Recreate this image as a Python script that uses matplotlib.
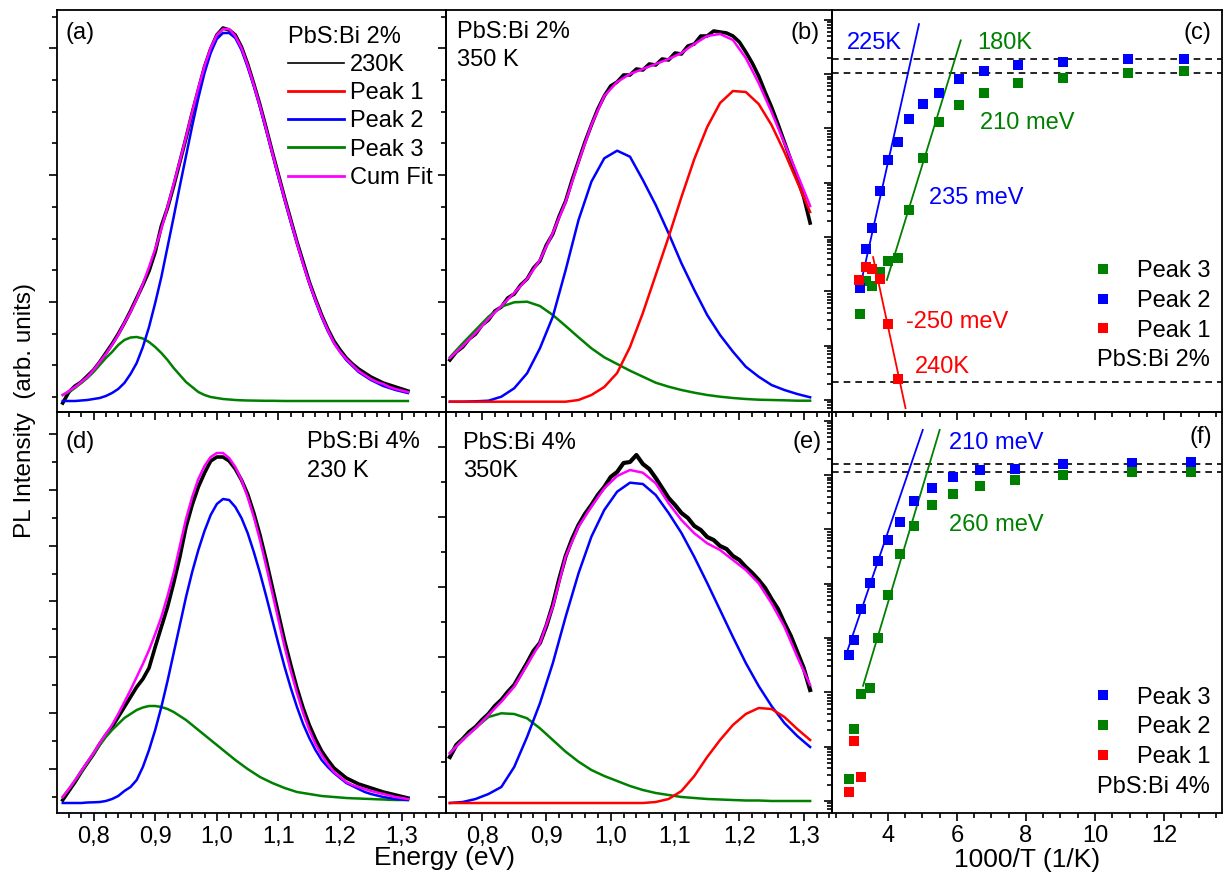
import numpy as np
import matplotlib
matplotlib.use('Agg')
import matplotlib.pyplot as plt
from matplotlib.lines import Line2D
from matplotlib.ticker import MultipleLocator, FixedLocator, LogLocator, NullFormatter

plt.rcParams['font.family'] = ['Liberation Sans', 'DejaVu Sans']
plt.rcParams['font.size'] = 17
NARROW = ['Liberation Sans Narrow', 'Liberation Sans', 'DejaVu Sans']

RED, BLUE, GREEN, MAG = '#ff0000', '#0000ff', '#008000', '#ff00ff'

E2 = [0.75, 0.77, 0.79, 0.81, 0.83, 0.85, 0.87, 0.89, 0.91, 0.93, 0.95, 0.97, 0.99, 1.01, 1.03,
      1.05, 1.07, 1.09, 1.11, 1.13, 1.15, 1.17, 1.19, 1.21, 1.23, 1.25, 1.27, 1.29, 1.31]
E1 = [0.75, 0.76, 0.77, 0.78, 0.79, 0.80, 0.81, 0.82, 0.83, 0.84, 0.85, 0.86, 0.87, 0.88, 0.89,
      0.90, 0.91, 0.92, 0.93, 0.94, 0.95, 0.96, 0.97, 0.98, 0.99, 1.00, 1.01, 1.02, 1.03, 1.04,
      1.05, 1.06, 1.07, 1.08, 1.09, 1.10, 1.11, 1.12, 1.13, 1.14, 1.15, 1.16, 1.17, 1.18, 1.19,
      1.20, 1.21, 1.22, 1.23, 1.24, 1.25, 1.26, 1.27, 1.28, 1.29, 1.30, 1.31]

# (a) PbS:Bi 2%, 230 K  (arb. units, on E1)
a_data = [0.9, 2.0, 2.6, 3.0, 3.6, 4.2, 5.0, 5.9, 6.8, 7.8,
          8.9, 10.1, 11.4, 12.7, 14.1, 16.0, 18.6, 20.4, 22.6, 25.0,
          27.4, 29.9, 32.2, 34.5, 36.3, 37.7, 38.4, 38.2, 37.7, 36.5,
          34.8, 32.8, 30.7, 28.4, 26.0, 23.7, 21.4, 19.2, 17.0, 15.0,
          13.0, 11.3, 9.7, 8.3, 7.1, 6.2, 5.4, 4.8, 4.3, 3.9,
          3.5, 3.2, 2.9, 2.7, 2.5, 2.3, 2.1]
a_peak2 = [1.1, 1.1, 1.1, 1.15, 1.2, 1.3, 1.4, 1.6, 1.9, 2.3,
           2.9, 3.8, 4.9, 6.5, 8.5, 10.9, 13.5, 16.5, 19.5, 22.6,
           25.6, 28.6, 31.4, 33.9, 35.9, 37.3, 37.9, 37.9, 37.4, 36.2,
           34.5, 32.6, 30.5, 28.2, 25.9, 23.5, 21.2, 19.0, 16.9, 14.8,
           12.9, 11.1, 9.5, 8.1, 6.9, 6.0, 5.2, 4.6, 4.0, 3.6,
           3.2, 2.9, 2.6, 2.4, 2.2, 2.05, 1.9]
a_peak3 = [1.7, 2.0, 2.4, 2.9, 3.4, 4.0, 4.7, 5.4, 6.0, 6.7,
           7.2, 7.45, 7.5, 7.35, 7.0, 6.5, 5.9, 5.2, 4.4, 3.7,
           3.0, 2.5, 2.0, 1.7, 1.5, 1.4, 1.3, 1.25, 1.2, 1.17,
           1.15, 1.14, 1.13, 1.12, 1.12, 1.11, 1.1, 1.1, 1.1, 1.1,
           1.1, 1.1, 1.1, 1.1, 1.1, 1.1, 1.1, 1.1, 1.1, 1.1,
           1.1, 1.1, 1.1, 1.1, 1.1, 1.1, 1.1]
a_fit = [1.7, 2.1, 2.5, 3.0, 3.5, 4.2, 5.0, 5.8, 6.7, 7.7,
         8.9, 10.0, 11.3, 12.8, 14.5, 16.3, 18.3, 20.5, 22.8, 25.1,
         27.5, 30.0, 32.4, 34.6, 36.4, 37.7, 38.3, 38.3, 37.6, 36.4,
         34.7, 32.7, 30.6, 28.3, 25.9, 23.6, 21.3, 19.1, 16.9, 14.8,
         12.9, 11.2, 9.6, 8.2, 6.9, 6.0, 5.3, 4.7, 4.1, 3.7,
         3.3, 3.0, 2.8, 2.5, 2.3, 2.15, 2.0]

# (b) PbS:Bi 2%, 350 K  (data on E1, fit components on E2)
b_data = [5.2, 6.0, 6.5, 7.3, 7.8, 8.7, 9.2, 10.1, 10.5, 11.4,
          11.8, 12.7, 13.3, 14.4, 15.1, 16.7, 17.8, 19.6, 21.1, 23.2,
          25.1, 27.0, 28.7, 30.3, 31.6, 32.6, 33.0, 33.7, 33.7, 34.3,
          34.2, 34.8, 34.7, 35.3, 35.2, 35.9, 35.8, 36.6, 36.8, 37.6,
          37.6, 38.1, 38.0, 37.9, 37.6, 37.0, 36.0, 34.9, 33.6, 32.0,
          30.5, 28.8, 27.0, 25.2, 23.4, 21.5, 18.9]
b_peak1 = [1.03, 1.03, 1.03, 1.03, 1.03, 1.03, 1.03, 1.03, 1.03, 1.03, 1.2, 1.7, 2.5, 3.9, 6.5,
           9.9, 13.7, 17.5, 21.5, 25.3, 28.5, 30.9, 32.1, 32.0, 30.8, 28.7, 26.0, 23.0, 20.0]
b_peak2 = [1.03, 1.03, 1.07, 1.13, 1.53, 2.37, 3.87, 6.37, 9.53, 14.2, 19.2, 23.03, 25.37, 26.13, 25.53,
           23.2, 20.7, 17.87, 14.87, 12.2, 9.7, 7.7, 6.03, 4.53, 3.53, 2.7, 2.2, 1.8, 1.47]
b_peak3 = [5.47, 6.87, 8.2, 9.53, 10.53, 10.97, 11.03, 10.6, 9.7, 8.6, 7.47, 6.37, 5.47, 4.8, 4.13,
           3.53, 2.93, 2.53, 2.2, 1.93, 1.7, 1.53, 1.4, 1.3, 1.23, 1.2, 1.17, 1.13, 1.13]
b_fit = [5.4, 6.6, 7.9, 9.3, 10.6, 11.9, 13.3, 15.2, 17.9, 21.0, 25.0, 28.7, 31.6, 33.0, 33.8,
         34.3, 34.8, 35.3, 35.9, 36.8, 37.6, 37.8, 37.2, 35.4, 32.9, 30.0, 26.9, 23.8, 20.6]

# (d) PbS:Bi 4%, 230 K  (on E1)
d_data = [1.3, 2.2, 3.1, 4.1, 5.0, 5.9, 6.9, 7.8, 8.6, 9.6,
          10.6, 11.6, 12.6, 13.4, 14.5, 16.6, 18.6, 20.6, 23.0, 25.6,
          28.6, 30.8, 32.6, 34.0, 35.2, 35.6, 35.6, 35.2, 34.4, 33.3,
          31.9, 30.0, 27.8, 25.3, 22.6, 19.9, 17.2, 14.8, 12.5, 10.5,
          8.8, 7.4, 6.2, 5.3, 4.5, 4.0, 3.5, 3.2, 2.9, 2.7,
          2.5, 2.3, 2.1, 1.95, 1.8, 1.65, 1.5]
d_peak2 = [1.0, 1.0, 1.0, 1.0, 1.05, 1.07, 1.1, 1.2, 1.4, 1.7,
           2.2, 2.6, 3.3, 4.6, 6.3, 8.3, 10.6, 13.2, 16.0, 18.8,
           21.6, 24.1, 26.3, 28.2, 29.8, 30.9, 31.4, 31.3, 30.6, 29.5,
           28.0, 26.1, 24.0, 21.7, 19.3, 16.9, 14.6, 12.5, 10.6, 8.9,
           7.5, 6.3, 5.3, 4.6, 4.0, 3.5, 3.0, 2.7, 2.4, 2.1,
           1.9, 1.75, 1.6, 1.5, 1.4, 1.35, 1.3]
d_peak3 = [1.6, 2.4, 3.2, 4.1, 5.0, 5.9, 6.8, 7.6, 8.3, 8.9,
           9.5, 9.9, 10.3, 10.55, 10.7, 10.7, 10.6, 10.4, 10.1, 9.7,
           9.3, 8.8, 8.3, 7.8, 7.3, 6.8, 6.3, 5.8, 5.3, 4.85,
           4.4, 4.0, 3.6, 3.3, 3.0, 2.75, 2.5, 2.3, 2.1, 2.0,
           1.9, 1.8, 1.7, 1.65, 1.6, 1.55, 1.5, 1.47, 1.45, 1.42,
           1.4, 1.37, 1.35, 1.32, 1.3, 1.3, 1.3]
d_fit = [1.6, 2.4, 3.3, 4.2, 5.1, 6.0, 7.0, 7.9, 8.8, 9.9,
         11.1, 12.3, 13.6, 14.9, 16.3, 17.9, 19.6, 21.7, 24.0, 26.7,
         29.4, 31.6, 33.4, 34.7, 35.6, 36.0, 36.0, 35.5, 34.6, 33.3,
         31.6, 29.6, 27.3, 24.7, 22.0, 19.3, 16.6, 14.2, 12.0, 10.0,
         8.3, 6.9, 5.8, 4.9, 4.1, 3.6, 3.1, 2.8, 2.6, 2.4,
         2.2, 2.05, 1.9, 1.75, 1.6, 1.5, 1.4]

# (e) PbS:Bi 4%, 350 K  (data on E1, fit components on E2)
e_data = [5.6, 6.8, 7.4, 8.1, 8.6, 9.3, 9.9, 10.7, 11.3, 12.1,
          12.8, 13.9, 15.0, 16.2, 17.0, 18.7, 20.8, 23.4, 25.7, 27.4,
          28.8, 29.9, 30.8, 31.8, 32.6, 33.6, 34.1, 35.0, 35.1, 35.8,
          34.9, 34.4, 33.5, 32.5, 31.5, 30.8, 30.0, 29.5, 28.7, 28.3,
          27.6, 27.3, 26.7, 26.4, 25.7, 25.3, 24.6, 24.0, 23.3, 22.5,
          21.4, 20.4, 19.0, 17.7, 16.1, 14.5, 12.3]
e_peak1 = [1.0, 1.0, 1.0, 1.0, 1.0, 1.0, 1.0, 1.0, 1.0, 1.0, 1.0, 1.0, 1.0, 1.0, 1.0,
           1.0, 1.1, 1.4, 2.2, 3.7, 5.6, 7.3, 8.8, 9.9, 10.5, 10.4, 9.6, 8.4, 7.3]
e_peak2 = [1.0, 1.1, 1.4, 1.9, 2.6, 4.6, 7.6, 10.97, 14.97, 19.63, 23.97, 27.63, 30.3, 32.13, 33.03,
           32.9, 31.8, 30.0, 28.0, 25.6, 23.0, 20.3, 17.6, 15.0, 12.7, 10.7, 9.0, 7.7, 6.6]
e_peak3 = [6.0, 7.4, 8.5, 9.6, 9.97, 9.9, 9.47, 8.47, 7.3, 6.13, 5.13, 4.3, 3.7, 3.2, 2.7,
           2.3, 2.0, 1.8, 1.6, 1.5, 1.4, 1.35, 1.3, 1.25, 1.25, 1.2, 1.2, 1.2, 1.2]
e_fit = [5.97, 7.3, 8.47, 9.8, 11.13, 12.63, 14.8, 16.97, 20.63, 25.63, 28.63, 30.63, 32.47, 33.7, 34.3,
         34.03, 32.97, 30.97, 29.3, 27.97, 26.97, 26.3, 25.3, 24.3, 22.97, 20.97, 18.63, 15.63, 12.8]

# (c) Arrhenius, PbS:Bi 2%  -- x: 1000/T, y: log10(intensity), arb. offset
c_x = [3.20, 3.37, 3.55, 3.77, 4.00, 4.28, 4.62, 5.01, 5.47, 6.06, 6.78, 7.76, 9.07, 10.97, 12.57]
c_peak2 = [2.06, 2.78, 3.17, 3.85, 4.42, 4.75, 5.17, 5.45, 5.66, 5.91, 6.06, 6.16, 6.22, 6.27, 6.28]
c_peak3 = [1.58, 2.19, 2.09, 2.35, 2.56, 2.62, 3.49, 4.46, 5.11, 5.44, 5.65, 5.83, 5.93, 6.02, 6.05]
c_x1 = [3.16, 3.36, 3.55, 3.78, 4.00, 4.28]
c_peak1 = [2.21, 2.45, 2.41, 2.22, 1.40, 0.38]
c_fit2 = ([3.20, 4.90], [2.10, 6.92])
c_fit3 = ([3.97, 6.11], [2.21, 6.62])
c_fit1 = ([3.57, 4.51], [2.63, -0.15])
c_hlines = [6.28, 6.02, 0.33]

# (f) Arrhenius, PbS:Bi 4%
f_x = [2.87, 3.03, 3.23, 3.47, 3.71, 4.00, 4.34, 4.77, 5.27, 5.88, 6.67, 7.69, 9.07, 11.08, 12.79]
f_peak3 = [2.69, 2.96, 3.54, 4.02, 4.42, 4.81, 5.13, 5.53, 5.77, 5.97, 6.09, 6.12, 6.20, 6.23, 6.24]
f_peak2 = [0.41, 1.32, 1.97, 2.08, 3.00, 3.80, 4.55, 5.07, 5.45, 5.65, 5.79, 5.90, 6.00, 6.06, 6.06]
f_x1 = [2.87, 3.03, 3.23]
f_peak1 = [0.16, 1.11, 0.45]
f_fit3 = ([2.77, 5.01], [2.66, 6.83])
f_fit2 = ([3.28, 5.50], [2.12, 6.83])
f_hlines = [6.20, 6.06]

E_TICKS = [0.8, 0.9, 1.0, 1.1, 1.2, 1.3]
E_LABELS = ['0,8', '0,9', '1,0', '1,1', '1,2', '1,3']

W, H = 1224, 873
fig = plt.figure(figsize=(W / 100, H / 100), dpi=100)


def box(x0, y0, x1, y1):
    return fig.add_axes([x0 / W, 1 - y1 / H, (x1 - x0) / W, (y1 - y0) / H])


ax_a = box(57, 10, 446, 412)
ax_b = box(446, 10, 832, 412)
ax_c = box(832, 10, 1222, 412)
ax_d = box(57, 412, 446, 813)
ax_e = box(446, 412, 832, 813)
ax_f = box(832, 412, 1222, 813)

for ax in (ax_a, ax_b, ax_c, ax_d, ax_e, ax_f):
    ax.patch.set_alpha(0)
    for s in ax.spines.values():
        s.set_linewidth(1.3)
    ax.tick_params(which='both', direction='out', top=False, right=False, width=1.2)
    ax.tick_params(which='major', length=6)
    ax.tick_params(which='minor', length=3.5)
    ax.tick_params(axis='y', labelleft=False)


def spectrum_axes(ax, xlim, ylim, ymaj, ymin, show_labels):
    ax.set_xlim(*xlim)
    ax.set_ylim(*ylim)
    ax.xaxis.set_major_locator(FixedLocator(E_TICKS))
    ax.xaxis.set_minor_locator(MultipleLocator(0.02))
    ax.yaxis.set_major_locator(FixedLocator(ymaj))
    ax.yaxis.set_minor_locator(FixedLocator(ymin))
    if show_labels:
        ax.set_xticklabels(E_LABELS, family=NARROW, fontsize=17)
        ax.tick_params(axis='x', pad=3)
    else:
        ax.tick_params(axis='x', labelbottom=False)


top_maj = np.arange(11.01, 40.2, 12.68)
top_min = np.arange(1.5, 40.2, 3.17)
spectrum_axes(ax_a, (0.7407, 1.3718), (0, 40.2), top_maj, top_min, False)
spectrum_axes(ax_b, (0.744, 1.344), (0, 40.2), top_maj, top_min, False)
spectrum_axes(ax_d, (0.7407, 1.3718), (0, 40.1), np.arange(4.42, 40.1, 5.58), np.arange(1.63, 40.1, 2.79), True)
spectrum_axes(ax_e, (0.744, 1.344), (0, 40.1), np.arange(1.63, 40.1, 7.0), np.arange(1.63, 40.1, 3.5), True)

LW = 1.8
# (a)
ax_a.plot(E1, a_data, color='k', lw=2.6)
ax_a.plot(E1, a_peak3, color=GREEN, lw=LW)
ax_a.plot(E1, a_peak2, color=BLUE, lw=LW)
ax_a.plot(E1, a_fit, color=MAG, lw=LW)
handles = [Line2D([], [], color='k', lw=1.2), Line2D([], [], color=RED, lw=2),
           Line2D([], [], color=BLUE, lw=2), Line2D([], [], color=GREEN, lw=2),
           Line2D([], [], color=MAG, lw=2)]
ax_a.legend(handles, ['230K', 'Peak 1', 'Peak 2', 'Peak 3', 'Cum Fit'],
            title='PbS:Bi 2%', title_fontsize=17, alignment='left',
            loc='upper left', bbox_to_anchor=(0.595, 0.96), frameon=False,
            handlelength=2.35, handletextpad=0.25, labelspacing=0.26,
            borderpad=0, borderaxespad=0, fontsize=17)
ax_a.text(0.021, 0.943, '(a)', transform=ax_a.transAxes, ha='left', va='center')

# (b)
ax_b.plot(E1, b_data, color='k', lw=2.6)
ax_b.plot(E2, b_peak3, color=GREEN, lw=LW)
ax_b.plot(E2, b_peak2, color=BLUE, lw=LW)
ax_b.plot(E2, b_peak1, color=RED, lw=LW)
ax_b.plot(E2, b_fit, color=MAG, lw=LW)
ax_b.text(0.028, 0.945, 'PbS:Bi 2%', transform=ax_b.transAxes, ha='left', va='center')
ax_b.text(0.028, 0.876, '350 K', transform=ax_b.transAxes, ha='left', va='center')
ax_b.text(0.969, 0.943, '(b)', transform=ax_b.transAxes, ha='right', va='center')

# (d)
ax_d.plot(E1, d_data, color='k', lw=2.6)
ax_d.plot(E1, d_peak3, color=GREEN, lw=LW)
ax_d.plot(E1, d_peak2, color=BLUE, lw=LW)
ax_d.plot(E1, d_fit, color=MAG, lw=LW)
ax_d.text(0.021, 0.925, '(d)', transform=ax_d.transAxes, ha='left', va='center')
ax_d.text(0.642, 0.925, 'PbS:Bi 4%', transform=ax_d.transAxes, ha='left', va='center')
ax_d.text(0.642, 0.853, '230 K', transform=ax_d.transAxes, ha='left', va='center')

# (e)
ax_e.plot(E1, e_data, color='k', lw=3.0)
ax_e.plot(E2, e_peak3, color=GREEN, lw=LW)
ax_e.plot(E2, e_peak2, color=BLUE, lw=LW)
ax_e.plot(E2, e_peak1, color=RED, lw=LW)
ax_e.plot(E2, e_fit, color=MAG, lw=LW)
ax_e.text(0.044, 0.923, 'PbS:Bi 4%', transform=ax_e.transAxes, ha='left', va='center')
ax_e.text(0.044, 0.852, '350K', transform=ax_e.transAxes, ha='left', va='center')
ax_e.text(0.972, 0.925, '(e)', transform=ax_e.transAxes, ha='right', va='center')


def arrhenius_axes(ax, ytop, show_labels):
    ax.set_yscale('log')
    ax.set_xlim(2.38, 13.68)
    ax.set_ylim(10 ** -0.221, 10 ** ytop)
    ax.xaxis.set_major_locator(MultipleLocator(2))
    ax.xaxis.set_minor_locator(MultipleLocator(0.5))
    ax.yaxis.set_major_locator(LogLocator(base=10, numticks=20))
    ax.yaxis.set_minor_locator(LogLocator(base=10, subs=np.arange(2, 10), numticks=20))
    ax.yaxis.set_major_formatter(NullFormatter())
    ax.yaxis.set_minor_formatter(NullFormatter())
    if show_labels:
        for lab in ax.get_xticklabels():
            lab.set_family(NARROW)
            lab.set_fontsize(17)
        ax.tick_params(axis='x', pad=3)
    else:
        ax.tick_params(axis='x', labelbottom=False)


def lin(v):
    return 10 ** np.asarray(v, dtype=float)


MS = 6.5
# (c)
arrhenius_axes(ax_c, 7.18, False)
for v in c_hlines:
    ax_c.axhline(lin(v), color='k', lw=1.2, ls=(0, (4, 3)))
ax_c.plot(c_fit2[0], lin(c_fit2[1]), color=BLUE, lw=1.3)
ax_c.plot(c_fit3[0], lin(c_fit3[1]), color=GREEN, lw=1.3)
ax_c.plot(c_fit1[0], lin(c_fit1[1]), color=RED, lw=1.3)
ax_c.plot(c_x, lin(c_peak3), 's', color=GREEN, ms=MS, mew=0, label='Peak 3')
ax_c.plot(c_x, lin(c_peak2), 's', color=BLUE, ms=MS, mew=0, label='Peak 2')
ax_c.plot(c_x1, lin(c_peak1), 's', color=RED, ms=MS, mew=0, label='Peak 1')
ax_c.legend(loc='upper left', bbox_to_anchor=(0.665, 0.378), frameon=False, numpoints=1,
            handlelength=1.0, handletextpad=0.95, labelspacing=0.33, borderpad=0,
            borderaxespad=0, fontsize=17)
ax_c.text(0.038, 0.918, '225K', color=BLUE, transform=ax_c.transAxes, ha='left', va='center')
ax_c.text(0.372, 0.918, '180K', color=GREEN, transform=ax_c.transAxes, ha='left', va='center')
ax_c.text(0.379, 0.719, '210 meV', color=GREEN, transform=ax_c.transAxes, ha='left', va='center')
ax_c.text(0.249, 0.532, '235 meV', color=BLUE, transform=ax_c.transAxes, ha='left', va='center')
ax_c.text(0.190, 0.224, '-250 meV', color=RED, transform=ax_c.transAxes, ha='left', va='center')
ax_c.text(0.213, 0.112, '240K', color=RED, transform=ax_c.transAxes, ha='left', va='center')
ax_c.text(0.974, 0.943, '(c)', transform=ax_c.transAxes, ha='right', va='center')
ax_c.text(0.969, 0.129, 'PbS:Bi 2%', transform=ax_c.transAxes, ha='right', va='center')

# (f)
arrhenius_axes(ax_f, 7.16, True)
for v in f_hlines:
    ax_f.axhline(lin(v), color='k', lw=1.2, ls=(0, (4, 3)))
ax_f.plot(f_fit3[0], lin(f_fit3[1]), color=BLUE, lw=1.3)
ax_f.plot(f_fit2[0], lin(f_fit2[1]), color=GREEN, lw=1.3)
ax_f.plot(f_x, lin(f_peak3), 's', color=BLUE, ms=MS, mew=0, label='Peak 3')
ax_f.plot(f_x, lin(f_peak2), 's', color=GREEN, ms=MS, mew=0, label='Peak 2')
ax_f.plot(f_x1, lin(f_peak1), 's', color=RED, ms=MS, mew=0, label='Peak 1')
ax_f.legend(loc='upper left', bbox_to_anchor=(0.665, 0.315), frameon=False, numpoints=1,
            handlelength=1.0, handletextpad=0.95, labelspacing=0.33, borderpad=0,
            borderaxespad=0, fontsize=17)
ax_f.text(0.30, 0.923, '210 meV', color=BLUE, transform=ax_f.transAxes, ha='left', va='center')
ax_f.text(0.30, 0.718, '260 meV', color=GREEN, transform=ax_f.transAxes, ha='left', va='center')
ax_f.text(0.974, 0.938, '(f)', transform=ax_f.transAxes, ha='right', va='center')
ax_f.text(0.969, 0.065, 'PbS:Bi 4%', transform=ax_f.transAxes, ha='right', va='center')

fig.text(25 / W, 1 - 410 / H, 'PL Intensity  (arb. units)', rotation=90, ha='center', va='center', fontsize=17.5)
fig.text(445 / W, 1 - 858 / H, 'Energy (eV)', ha='center', va='center', family=NARROW, fontsize=19)
fig.text(1027 / W, 1 - 860 / H, '1000/T (1/K)', ha='center', va='center', family=NARROW, fontsize=19)

fig.savefig('out.png', dpi=100)
